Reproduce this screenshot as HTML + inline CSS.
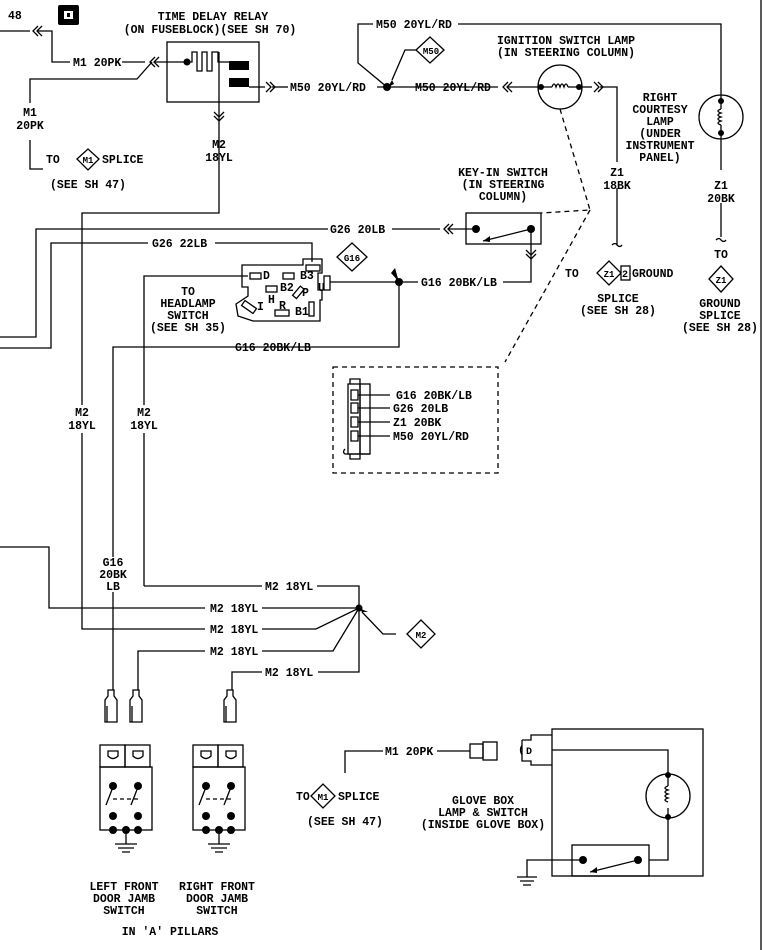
<!DOCTYPE html>
<html><head><meta charset="utf-8"><style>
html,body{margin:0;padding:0;background:#fff;}
svg{display:block;}
text{font-family:"Liberation Mono",monospace;font-size:11.5px;font-weight:bold;fill:#000;}
.c{text-anchor:middle;}
</style></head><body>
<svg width="767" height="950" viewBox="0 0 767 950" xmlns="http://www.w3.org/2000/svg">
<g fill="none" stroke="#000" stroke-width="1.3">
<line x1="761" y1="0" x2="761" y2="950"/>
<line x1="0" y1="31" x2="30" y2="31"/>
<path d="M38 26 L33 31 L38 36 M42 26 L37 31 L42 36"/>
<path d="M37 31 H52 V62 H70"/>
<line x1="122" y1="62" x2="145" y2="62"/>
<path d="M155 57 L150 62 L155 67 M159 57 L154 62 L159 67"/>
<line x1="154" y1="62" x2="187" y2="62"/>
<path d="M152 62 L137 79 H30 V103"/>
<path d="M30 140 V169 H43"/>
<rect x="167" y="42" width="92" height="60"/>
<path d="M187 62 H192 V52 H197 V71 H202 V52 H207 V71 H212 V52 H218 V62 H229"/>
<path d="M219 52 V213 H82 V405"/>
<path d="M82 433 V629 H205"/>
<path d="M214 112 L219 117 L224 112 M214 116 L219 121 L224 116"/>
<path d="M249 87 H265"/>
<path d="M266 82 L271 87 L266 92 M270 82 L275 87 L270 92"/>
<line x1="272" y1="87" x2="288" y2="87"/>
<line x1="377" y1="87" x2="498" y2="87"/>
<path d="M387 87 L358 63 V24 H373"/>
<path d="M458 24 H721 V95"/>
<path d="M416 50 L405 50 L392 80"/>
<path d="M508 82 L503 87 L508 92 M512 82 L507 87 L512 92"/>
<line x1="507" y1="87" x2="541" y2="87"/>
<circle cx="560" cy="87" r="22"/>
<path d="M541 87 H552 M568 87 H579"/>
<path d="M552 87 q2 -6 4 0 q2 -6 4 0 q2 -6 4 0 q2 -6 4 0"/>
<line x1="579" y1="87" x2="592" y2="87"/>
<path d="M594 82 L599 87 L594 92 M598 82 L603 87 L598 92"/>
<path d="M600 87 H617 V162"/>
<path d="M617 188 V245 M612 245 q3 -3 5 0 q3 3 5 0"/>
<circle cx="721" cy="117" r="22"/>
<path d="M721 95 V109 M721 125 V170"/>
<path d="M721 109 q-6 2 0 4 q-6 2 0 4 q-6 2 0 4 q-6 2 0 4"/>
<path d="M721 203 V237 M716 240 q3 -3 5 0 q3 3 5 0"/>
<path d="M0 337 H36 V229 H328"/>
<path d="M392 229 H440"/>
<path d="M449 224 L444 229 L449 234 M453 224 L448 229 L453 234"/>
<line x1="448" y1="229" x2="476" y2="229"/>
<path d="M0 348 H51 V243 H148"/>
<path d="M215 243 H312 V262"/>
<rect x="466" y="213" width="75" height="31"/>
<line x1="531" y1="229" x2="483" y2="241"/>
<path d="M531 229 V282 H503"/>
<path d="M526 250 L531 255 L536 250 M526 254 L531 259 L536 254"/>
<path d="M418 282 H330"/>
<path d="M242 265 H303 V259 H322 V273 H318 V290 H322 V300 H320 V321 H253 L238 316 L236 304 L248 296 L248 287 L242 287 Z"/>
<path d="M144 586 V433 M144 405 V276 H248"/>
<path d="M399 282 V347 H113 V557"/>
<path d="M113 592 V690"/>
<path d="M560 109 L590 210 L541 213 M590 210 L505 362" stroke-dasharray="5,4"/>
<rect x="333" y="367" width="165" height="106" stroke-dasharray="5,4"/>
<rect x="348" y="384" width="12" height="70"/>
<rect x="360" y="384" width="10" height="70"/>
<path d="M350 384 V379 H360 V384 M350 454 V459 H360 V454"/>
<path d="M351 390 H358 V400 H351 Z M351 403 H358 V413 H351 Z M351 417 H358 V427 H351 Z M351 431 H358 V441 H351 Z"/>
<path d="M358 395 H390 M358 408 H390 M358 422 H390 M358 436 H390"/>
<path d="M345 449 q-3 3 0 5 H370"/>
<path d="M0 547 H49 V608 H205"/>
<path d="M144 586 H262"/>
<path d="M317 586 H359 V672 H318"/>
<path d="M262 608 H359"/>
<path d="M262 629 H316 L359 608 L333 651 H262"/>
<path d="M138 690 V651 H205"/>
<path d="M232 690 V672 H262"/>
<path d="M396 634 L383 634 L362 612"/>
<g id="conn"><path d="M108 690 V696 L105 700 V722 H117 V700 L114 696 V690 Z M107 706 V722"/></g>
<use href="#conn" x="25"/>
<use href="#conn" x="119"/>
<g id="dj">
<rect x="100" y="745" width="25" height="22"/><rect x="125" y="745" width="25" height="22"/>
<path d="M108 751 h10 v5 q-5 5 -10 0 z M133 751 h10 v5 q-5 5 -10 0 z"/>
<rect x="100" y="767" width="52" height="63"/>
<path d="M113 787 L106 805 M138 787 L131 805"/>
<path d="M113 799 H138" stroke-dasharray="4,3"/>
<path d="M113 830 V844 M102 844 H124 M105 848 H121 M109 852 H117" transform="translate(13,0)"/>
</g>
<use href="#dj" x="93"/>
<path d="M345 773 V751 H383"/>
<path d="M437 751 H470"/>
<rect x="470" y="744" width="13" height="14"/><rect x="483" y="742" width="14" height="18"/>
<path d="M522 740 H531 V735 H552 M522 740 V761 H531 V765 H552 M522 745 q-3 5 0 10"/>
<rect x="552" y="729" width="151" height="147"/>
<path d="M552 750 H668 V774 M668 818 V860 H649"/>
<circle cx="668" cy="796" r="22"/>
<path d="M668 774 V786 M668 808 V818 M668 786 q-6 2 0 4 q-6 2 0 4 q-6 2 0 4 q-6 2 0 4"/>
<rect x="572" y="845" width="77" height="31"/>
<line x1="638" y1="860" x2="590" y2="872"/>
<path d="M583 860 H527 V877 M517 877 H537 M520 881 H534 M523 885 H531"/>
</g>
<g fill="#000">
<rect x="58" y="5" width="21" height="20" rx="2"/>
<circle cx="187" cy="62" r="3.5"/>
<rect x="229" y="61" width="20" height="9"/><rect x="229" y="78" width="20" height="9"/>
<circle cx="387" cy="87" r="4"/>
<circle cx="541" cy="87" r="3"/><circle cx="579" cy="87" r="3"/>
<circle cx="721" cy="101" r="3"/><circle cx="721" cy="133" r="3"/>
<circle cx="476" cy="229" r="4"/><circle cx="531" cy="229" r="4"/>
<circle cx="399" cy="282" r="4"/>
<circle cx="359" cy="608" r="3.5"/>
<circle cx="668" cy="775" r="3"/><circle cx="668" cy="817" r="3"/>
<circle cx="583" cy="860" r="4"/><circle cx="638" cy="860" r="4"/>
<path d="M483 241 l7 -5 l0 6 z"/>
<path d="M590 872 l7 -5 l0 6 z"/>
<path d="M392 80 l-4 7 l6 -3 z"/>
<path d="M395 268 l4 14 l-8 -9 z"/>
<path d="M362 612 l-3 -4 l9 4 z"/>
<g id="djd">
<circle cx="113" cy="786" r="4"/><circle cx="138" cy="786" r="4"/>
<circle cx="113" cy="816" r="4"/><circle cx="138" cy="816" r="4"/>
<circle cx="113" cy="830" r="4"/><circle cx="126" cy="830" r="4"/><circle cx="138" cy="830" r="4"/>
</g>
<use href="#djd" x="93"/>
</g>
<rect x="64" y="11" width="9" height="8" fill="#fff"/><rect x="67" y="13" width="3" height="4" fill="#000"/>
<g fill="#fff" stroke="#000" stroke-width="1.3">
<rect x="250" y="273" width="11" height="6"/><rect x="283" y="273" width="11" height="6"/>
<rect x="306" y="265" width="14" height="6"/><rect x="324" y="276" width="6" height="14"/>
<rect x="266" y="286" width="11" height="6"/><rect x="275" y="310" width="14" height="6"/>
<rect x="309" y="302" width="5" height="14"/>
<rect x="296" y="286" width="5" height="12" transform="rotate(40 298 292)"/>
<rect x="242" y="304" width="14" height="6" transform="rotate(35 249 307)"/>
<path d="M77 159 L88 149 L99 159 L88 170 Z"/>
<path d="M337 257 L352 243 L367 257 L352 271 Z"/>
<path d="M416 50 L430 37 L444 50 L430 63 Z"/>
<path d="M597 273 L609 261 L621 273 L609 285 Z"/><rect x="621" y="266" width="9" height="14"/>
<path d="M709 279 L721 266 L733 279 L721 292 Z"/>
<path d="M407 634 L421 620 L435 634 L421 648 Z"/>
<path d="M311 796 L323 784 L335 796 L323 808 Z"/>
</g>
<text x="8" y="19">48</text>
<text class="c" x="213" y="20">TIME DELAY RELAY</text>
<text class="c" x="210" y="33">(ON FUSEBLOCK)(SEE SH 70)</text>
<text x="73" y="66">M1 20PK</text>
<text class="c" x="30" y="116">M1</text><text class="c" x="30" y="129">20PK</text>
<text x="46" y="163">TO</text><text class="c" x="88" y="163" style="font-size:9px">M1</text><text x="102" y="163">SPLICE</text>
<text class="c" x="88" y="188">(SEE SH 47)</text>
<text class="c" x="219" y="148">M2</text><text class="c" x="219" y="161">18YL</text>
<text x="290" y="91">M50 20YL/RD</text>
<text x="376" y="28">M50 20YL/RD</text>
<text class="c" x="431" y="54" style="font-size:9px">M50</text>
<text x="415" y="91">M50 20YL/RD</text>
<text class="c" x="566" y="44">IGNITION SWITCH LAMP</text>
<text class="c" x="566" y="56">(IN STEERING COLUMN)</text>
<text class="c" x="660" y="101">RIGHT</text><text class="c" x="660" y="113">COURTESY</text>
<text class="c" x="660" y="125">LAMP</text><text class="c" x="660" y="137">(UNDER</text>
<text class="c" x="660" y="149">INSTRUMENT</text><text class="c" x="660" y="161">PANEL)</text>
<text class="c" x="617" y="176">Z1</text><text class="c" x="617" y="189">18BK</text>
<text class="c" x="721" y="189">Z1</text><text class="c" x="721" y="202">20BK</text>
<text x="565" y="277">TO</text><text class="c" x="609" y="277" style="font-size:9px">Z1</text><text x="622" y="277" style="font-size:10px">2</text><text x="632" y="277">GROUND</text>
<text class="c" x="618" y="302">SPLICE</text><text class="c" x="618" y="314">(SEE SH 28)</text>
<text class="c" x="721" y="258">TO</text><text class="c" x="721" y="283" style="font-size:9px">Z1</text>
<text class="c" x="720" y="307">GROUND</text><text class="c" x="720" y="319">SPLICE</text><text class="c" x="720" y="331">(SEE SH 28)</text>
<text class="c" x="503" y="176">KEY-IN SWITCH</text><text class="c" x="503" y="188">(IN STEERING</text><text class="c" x="503" y="200">COLUMN)</text>
<text x="330" y="233">G26 20LB</text>
<text x="152" y="247">G26 22LB</text>
<text class="c" x="352" y="261" style="font-size:9px">G16</text>
<text x="421" y="286">G16 20BK/LB</text>
<text class="c" x="188" y="295">TO</text><text class="c" x="188" y="307">HEADLAMP</text><text class="c" x="188" y="319">SWITCH</text><text class="c" x="188" y="331">(SEE SH 35)</text>
<text x="235" y="351">G16 20BK/LB</text>
<g style="font-size:9.5px"><text x="263" y="279">D</text><text x="300" y="279">B3</text><text x="280" y="291">B2</text><text x="268" y="303">H</text><text x="302" y="296">P</text><text x="318" y="291">U</text><text x="257" y="310">I</text><text x="279" y="309">R</text><text x="295" y="315">B1</text></g>
<text x="396" y="399">G16 20BK/LB</text>
<text x="393" y="412">G26 20LB</text>
<text x="393" y="426">Z1 20BK</text>
<text x="393" y="440">M50 20YL/RD</text>
<text class="c" x="82" y="416">M2</text><text class="c" x="82" y="429">18YL</text>
<text class="c" x="144" y="416">M2</text><text class="c" x="144" y="429">18YL</text>
<text class="c" x="113" y="566">G16</text><text class="c" x="113" y="578">20BK</text><text class="c" x="113" y="590">LB</text>
<text x="265" y="590">M2 18YL</text>
<text x="210" y="612">M2 18YL</text>
<text x="210" y="633">M2 18YL</text>
<text x="210" y="655">M2 18YL</text>
<text x="265" y="676">M2 18YL</text>
<text class="c" x="421" y="638" style="font-size:9px">M2</text>
<text x="385" y="755">M1 20PK</text>
<text x="296" y="800">TO</text><text class="c" x="323" y="800" style="font-size:9px">M1</text><text x="338" y="800">SPLICE</text>
<text class="c" x="345" y="825">(SEE SH 47)</text>
<text x="526" y="754" style="font-size:10px">D</text>
<text class="c" x="483" y="804">GLOVE BOX</text><text class="c" x="483" y="816">LAMP &amp; SWITCH</text><text class="c" x="483" y="828">(INSIDE GLOVE BOX)</text>
<text class="c" x="124" y="890">LEFT FRONT</text><text class="c" x="124" y="902">DOOR JAMB</text><text class="c" x="124" y="914">SWITCH</text>
<text class="c" x="217" y="890">RIGHT FRONT</text><text class="c" x="217" y="902">DOOR JAMB</text><text class="c" x="217" y="914">SWITCH</text>
<text class="c" x="170" y="935">IN 'A' PILLARS</text>
</svg>
</body></html>
